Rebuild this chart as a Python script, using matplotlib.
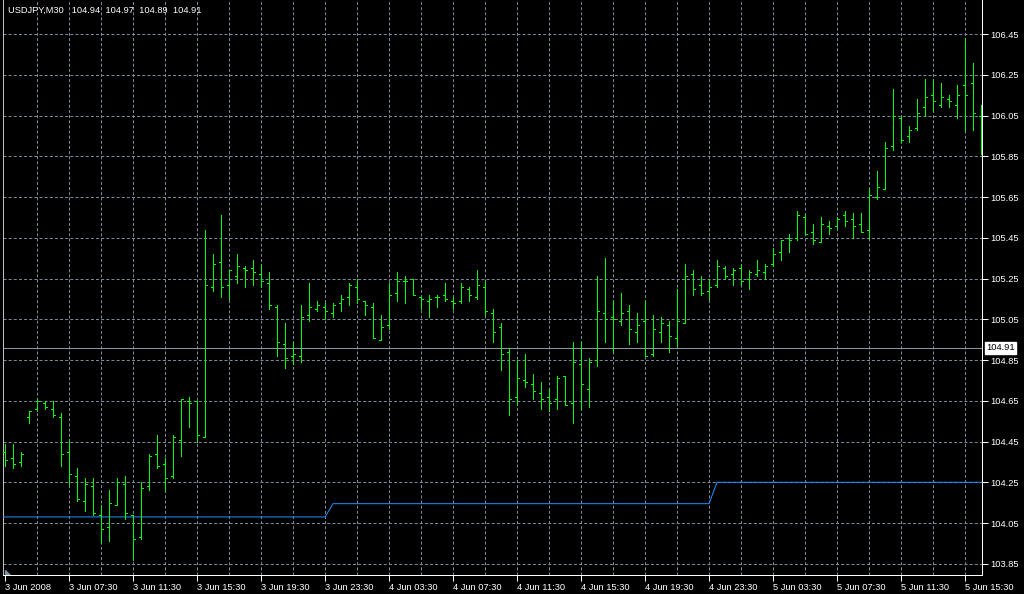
import numpy as np
import matplotlib
matplotlib.use('Agg')
import matplotlib.pyplot as plt

plt.rcParams['font.family'] = ['Liberation Sans', 'DejaVu Sans']
plt.rcParams['lines.scale_dashes'] = False

# USDJPY M30 bars, 3 Jun 2008 03:30 .. 5 Jun 2008 16:30
opens = [104.40, 104.37, 104.35, 104.57, 104.61, 104.64, 104.61, 104.57, 104.40, 104.28,
         104.16, 104.23, 104.09, 104.03, 104.14, 104.24, 104.09, 103.98, 104.23, 104.39,
         104.34, 104.28, 104.46, 104.65, 104.65, 104.47, 105.21, 105.33, 105.22, 105.26,
         105.30, 105.30, 105.27, 105.23, 105.11, 104.93, 104.87, 104.87, 105.07, 105.10,
         105.11, 105.08, 105.13, 105.16, 105.21, 105.14, 105.11, 104.95, 105.02, 105.18,
         105.24, 105.25, 105.16, 105.14, 105.16, 105.17, 105.14, 105.14, 105.20, 105.16,
         105.21, 105.08, 105.01, 104.89, 104.67, 104.75, 104.73, 104.69, 104.67, 104.66,
         104.77, 104.64, 104.83, 104.71, 104.85, 105.08, 105.06, 105.04, 105.09, 104.99,
         105.04, 104.88, 104.99, 105.02, 104.96, 105.03, 105.27, 105.22, 105.19, 105.22,
         105.30, 105.27, 105.30, 105.25, 105.27, 105.28, 105.32, 105.38, 105.45, 105.45,
         105.55, 105.48, 105.43, 105.51, 105.51, 105.56, 105.54, 105.52, 105.49, 105.65,
         105.69, 105.90, 106.04, 105.95, 105.99, 106.09, 106.15, 106.10, 106.13, 106.10,
         106.20, 106.21, 106.05]
highs = [104.44, 104.44, 104.40, 104.60, 104.66, 104.65, 104.65, 104.59, 104.46, 104.32,
         104.27, 104.27, 104.14, 104.21, 104.27, 104.28, 104.09, 104.25, 104.39, 104.48,
         104.37, 104.48, 104.66, 104.67, 104.65, 105.49, 105.37, 105.56, 105.29, 105.37,
         105.31, 105.34, 105.32, 105.28, 105.12, 105.03, 104.94, 105.12, 105.23, 105.14,
         105.13, 105.13, 105.17, 105.23, 105.25, 105.14, 105.13, 105.07, 105.23, 105.28,
         105.26, 105.25, 105.16, 105.17, 105.17, 105.23, 105.16, 105.23, 105.21, 105.29,
         105.24, 105.10, 105.03, 104.91, 104.85, 104.88, 104.78, 104.74, 104.71, 104.77,
         104.77, 104.94, 104.94, 104.86, 105.26, 105.35, 105.14, 105.18, 105.12, 105.08,
         105.14, 105.07, 105.06, 105.04, 105.20, 105.32, 105.29, 105.26, 105.25, 105.34,
         105.31, 105.30, 105.32, 105.29, 105.34, 105.32, 105.40, 105.44, 105.47, 105.58,
         105.56, 105.52, 105.55, 105.53, 105.55, 105.58, 105.57, 105.57, 105.69, 105.78,
         105.92, 106.18, 106.05, 106.00, 106.13, 106.23, 106.23, 106.21, 106.15, 106.20,
         106.43, 106.31, 106.10]
lows = [104.33, 104.32, 104.33, 104.54, 104.60, 104.61, 104.57, 104.33, 104.24, 104.16,
        104.11, 104.09, 103.95, 103.96, 104.14, 104.07, 103.87, 103.97, 104.21, 104.32,
        104.21, 104.27, 104.38, 104.52, 104.45, 104.47, 105.19, 105.16, 105.15, 105.23,
        105.21, 105.22, 105.21, 105.10, 104.87, 104.81, 104.83, 104.84, 105.04, 105.09,
        105.05, 105.06, 105.09, 105.12, 105.13, 105.07, 104.96, 104.95, 105.00, 105.14,
        105.13, 105.17, 105.10, 105.06, 105.11, 105.14, 105.10, 105.13, 105.14, 105.15,
        105.07, 104.94, 104.80, 104.58, 104.63, 104.72, 104.66, 104.61, 104.60, 104.61,
        104.63, 104.54, 104.61, 104.62, 104.82, 104.94, 104.89, 105.02, 104.93, 104.94,
        104.87, 104.87, 104.94, 104.89, 104.92, 105.03, 105.17, 105.17, 105.15, 105.21,
        105.25, 105.22, 105.22, 105.20, 105.26, 105.25, 105.31, 105.34, 105.38, 105.44,
        105.47, 105.42, 105.43, 105.47, 105.50, 105.51, 105.45, 105.48, 105.45, 105.64,
        105.69, 105.88, 105.92, 105.92, 105.98, 106.05, 106.07, 106.09, 106.09, 106.04,
        105.98, 105.98, 105.86]
closes = [104.36, 104.34, 104.39, 104.60, 104.65, 104.62, 104.58, 104.39, 104.29, 104.17,
          104.24, 104.10, 104.02, 104.15, 104.25, 104.10, 103.97, 104.22, 104.38, 104.33,
          104.27, 104.47, 104.66, 104.64, 104.48, 105.22, 105.32, 105.21, 105.29, 105.31,
          105.29, 105.28, 105.24, 105.12, 104.94, 104.86, 104.88, 105.06, 105.11, 105.12,
          105.09, 105.12, 105.15, 105.22, 105.15, 105.12, 104.96, 105.01, 105.17, 105.24,
          105.24, 105.17, 105.15, 105.15, 105.16, 105.15, 105.13, 105.21, 105.17, 105.22,
          105.09, 104.99, 104.88, 104.66, 104.76, 104.74, 104.70, 104.66, 104.64, 104.76,
          104.63, 104.84, 104.73, 104.84, 105.09, 105.05, 105.05, 105.08, 105.00, 105.02,
          104.87, 105.00, 105.03, 104.97, 105.04, 105.26, 105.20, 105.18, 105.21, 105.31,
          105.26, 105.29, 105.24, 105.28, 105.29, 105.31, 105.37, 105.44, 105.44, 105.56,
          105.47, 105.44, 105.52, 105.50, 105.54, 105.53, 105.51, 105.48, 105.66, 105.70,
          105.89, 106.05, 105.93, 105.98, 106.06, 106.14, 106.12, 106.14, 106.12, 106.15,
          106.15, 106.06, 106.05]

# blue indicator line (bar index, price) breakpoints
ind_x = [-1, 40, 41, 88, 89, 123]
ind_y = [104.08, 104.08, 104.145, 104.145, 104.25, 104.25]

last_price = 104.91
title = "USDJPY,M30   104.94  104.97  104.89  104.91"

ytick_vals = [103.85, 104.05, 104.25, 104.45, 104.65, 104.85, 105.05, 105.25,
              105.45, 105.65, 105.85, 106.05, 106.25, 106.45]
xtick_bars = [0, 8, 16, 24, 32, 40, 48, 56, 64, 72, 80, 88, 96, 104, 112, 120]
xtick_labels = ["3 Jun 2008", "3 Jun 07:30", "3 Jun 11:30", "3 Jun 15:30", "3 Jun 19:30",
                "3 Jun 23:30", "4 Jun 03:30", "4 Jun 07:30", "4 Jun 11:30", "4 Jun 15:30",
                "4 Jun 19:30", "4 Jun 23:30", "5 Jun 03:30", "5 Jun 07:30", "5 Jun 11:30",
                "5 Jun 15:30"]

px = 0.72  # one pixel in points at 100 dpi
bar_col = '#00ff00'
grid_col = '#778899'
fs = 6.7

fig = plt.figure(figsize=(10.24, 5.94), dpi=100, facecolor='black')
ax = fig.add_axes([3/1024, 19/594, 979/1024, 575/594])
ax.set_facecolor('black')
ax.set_xlim(-0.25, 122.125)
ax.set_ylim(103.795, 106.617)

# grid
for k in range(4, 123, 4):
    ax.axvline(k, color=grid_col, lw=px, ls=(0, (2.2, 1.5)), zorder=1)
for v in ytick_vals:
    ax.axhline(v, color=grid_col, lw=px, ls=(0, (2.2, 1.5)), zorder=1)

# current price line
ax.axhline(last_price, color='#8a95a5', lw=px, zorder=2)

# indicator
ax.plot(ind_x, ind_y, color='#1e90ff', lw=px, zorder=3)

# OHLC bars
x = np.arange(len(opens))
ax.vlines(x, lows, highs, color=bar_col, lw=px, zorder=4, antialiased=False)
ax.hlines(opens, x - 0.3, x, color=bar_col, lw=px, zorder=4, antialiased=False)
ax.hlines(closes, x, x + 0.3, color=bar_col, lw=px, zorder=4, antialiased=False)

# small shift marker in the lower left corner
ax.fill([0, 0, 0.65], [103.82, 103.795, 103.795], color='#8090a0', zorder=5)

# axes
ax.spines['top'].set_visible(False)
ax.spines['left'].set_color('#c0c0c0')
ax.spines['right'].set_color('white')
ax.spines['bottom'].set_color('white')
for s in ['left', 'right', 'bottom']:
    ax.spines[s].set_linewidth(px)

ax.yaxis.tick_right()
ax.set_yticks(ytick_vals)
ax.set_yticklabels(["%.2f" % v for v in ytick_vals])
ax.tick_params(axis='y', colors='white', length=4, width=px, pad=2, labelsize=fs)
ax.set_xticks(xtick_bars)
ax.set_xticklabels(xtick_labels, ha='left')
ax.tick_params(axis='x', colors='white', length=4, width=px, pad=2, labelsize=fs)

# price label box
ax.annotate("%.2f" % last_price, xy=(1.0, last_price), xycoords=('axes fraction', 'data'),
            xytext=(3, 0), textcoords='offset points', va='center', ha='left',
            fontsize=fs, color='black',
            bbox=dict(boxstyle='square,pad=0.15', fc='white', ec='white'))

fig.text(8/1024, 1 - 10/594, title, color='white', fontsize=fs, va='center', ha='left')

fig.savefig('out.png', dpi=100, facecolor='black')
